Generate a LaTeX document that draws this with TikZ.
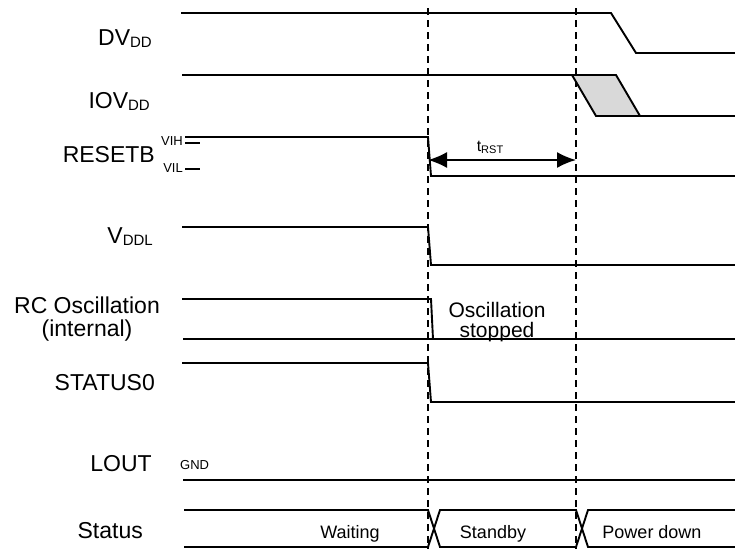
\documentclass[tikz,border=0pt]{standalone}
\usepackage{fontspec}
\setmainfont{Liberation Sans}
\usetikzlibrary{arrows.meta}
\newcommand{\lowsub}[2]{\raisebox{-2.5pt}{\fontsize{#1}{#1}\selectfont #2}}

\begin{document}
\begin{tikzpicture}[x=1pt,y=-1pt,
  sig/.style={line width=1.9pt},
  markline/.style={line width=1.9pt, dash pattern=on 7pt off 5pt},
  lbl/.style={font={\fontsize{23}{26}\selectfont}, inner sep=0pt, anchor=base east},
  lvl/.style={font={\fontsize{13}{14}\selectfont}, inner sep=0pt},
  busText/.style={font={\fontsize{18}{20}\selectfont}, inner sep=0pt, anchor=base},
  note/.style={font={\fontsize{21}{23}\selectfont}, inner sep=0pt, anchor=base}]
\useasboundingbox (0,0) rectangle (735,549);
% signal names
\node[lbl] (dvdd) at (152,45) {DV\lowsub{15}{DD}};
\node[lbl] (iovdd) at (150,108) {IOV\lowsub{15}{DD}};
\node[lbl] (resetb) at (155,162) {RESETB};
\node[lbl] (vddl) at (153,243) {V\lowsub{15}{DDL}};
\node[lbl, anchor=base] (rcosc) at (87,313) {RC Oscillation};
\node[lbl, anchor=base] (rcint) at (87,336) {(internal)};
\node[lbl] (status0) at (155,390) {STATUS0};
\node[lbl] (lout) at (152,471) {LOUT};
\node[lbl] (status) at (143,538) {Status};
\node[lvl, anchor=base east] (vih) at (183,145) {VIH};
\node[lvl, anchor=base east] (vil) at (183,172) {VIL};
\node[lvl, anchor=base west] (gnd) at (180,469) {GND};
% time markers
\coordinate (ta) at (428,8);
\coordinate (tb) at (576,8);
\draw[markline] (ta) -- (428,549);
\draw[markline] (tb) -- (576,549);
% DVDD
\draw[sig] (181,13) -- (611,13) -- (636,53) -- (735,53);
% IOVDD
\filldraw[sig, fill=black!15] (572,75) -- (616,75) -- (640,116) -- (596,116) -- cycle;
\draw[sig] (182,75) -- (616,75);
\draw[sig] (596,116) -- (735,116);
% RESETB
\draw[sig] (185,137) -- (428,137) -- (431,176) -- (735,176);
\draw[sig] (185,143) -- (200,143);
\draw[sig] (185,169) -- (200,169);
\coordinate (ra) at (428,160);
\coordinate (rb) at (576,160);
\draw[sig, {Latex[length=19pt,width=16pt]}-{Latex[length=19pt,width=16pt]}] (ra) -- (rb);
\node[inner sep=0pt, anchor=base, font={\fontsize{16}{18}\selectfont}] (trst) at (490,151) {t\lowsub{11}{RST}};
% VDDL
\draw[sig] (182,227) -- (428,227) -- (431,265) -- (735,265);
% RC oscillation
\draw[sig] (182,299) -- (431,299) -- (433,339);
\draw[sig] (183,339) -- (735,339);
\node[note] (oscA) at (497,317) {Oscillation};
\node[note] (oscB) at (497,337) {stopped};
% STATUS0
\draw[sig] (182,363) -- (428,363) -- (431,402) -- (735,402);
% LOUT
\draw[sig] (183,480) -- (735,480);
% status bus
\draw[sig] (184,510) -- (428,510) -- (440,547) -- (576,547) -- (588,510) -- (735,510);
\draw[sig] (184,547) -- (428,547) -- (440,510) -- (576,510) -- (588,547) -- (735,547);
\node[busText] (waiting) at (350,538) {Waiting};
\node[busText] (standby) at (493,538) {Standby};
\node[busText] (powerdown) at (652,538) {Power down};
\end{tikzpicture}
\end{document}
